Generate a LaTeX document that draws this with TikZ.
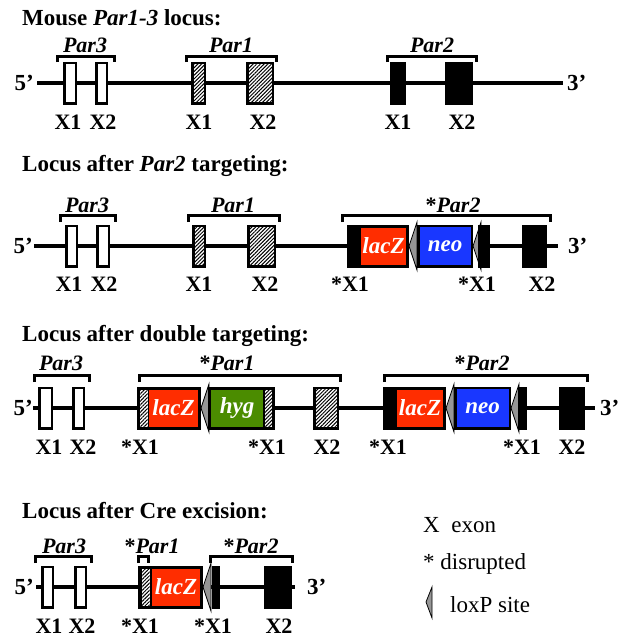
\documentclass[tikz,border=0pt]{standalone}
\usepackage{fontspec}
\setmainfont{Liberation Serif}
\usetikzlibrary{patterns.meta}

\definecolor{lacred}{RGB}{255,45,0}
\definecolor{neoblue}{RGB}{25,55,255}
\definecolor{hyggreen}{RGB}{75,140,0}
\definecolor{loxgray}{RGB}{150,150,150}

\tikzset{
  dna/.style={line width=4pt},
  bracket/.style={line width=3pt},
  exon/.style={draw, line width=2.5pt, inner sep=0pt, minimum height=40.5pt},
  openexon/.style={exon, fill=white},
  hatchexon/.style={exon, preaction={fill=white},
    pattern={Lines[angle=45,distance=2.6pt,line width=1pt]}},
  solidexon/.style={exon, fill=black},
  hatchstrip/.style={inner sep=0pt, minimum height=37pt, preaction={fill=white},
    pattern={Lines[angle=45,distance=2.6pt,line width=1pt]}},
  insert/.style={inner sep=0pt, minimum height=37pt, text=white,
    font=\fontsize{23}{25}\selectfont\bfseries\itshape},
  boxedinsert/.style={draw, line width=2.5pt, inner sep=0pt, minimum height=40.5pt,
    text=white, font=\fontsize{23}{25}\selectfont\bfseries\itshape},
  ttl/.style={inner sep=0pt, anchor=base west, font=\fontsize{23}{26}\selectfont\bfseries},
  gene/.style={inner sep=0pt, anchor=base, font=\fontsize{22}{24}\selectfont\bfseries\itshape},
  xlbl/.style={inner sep=0pt, anchor=base, font=\fontsize{22}{24}\selectfont\bfseries},
  endlbl/.style={inner sep=0pt, font=\fontsize{23}{26}\selectfont\bfseries},
  legendtxt/.style={inner sep=0pt, anchor=base west, font=\fontsize{23}{26}\selectfont},
  loxp/.pic={\draw[line width=0.8pt, fill=loxgray] (0,0) -- (8,-24) -- (8,24) -- cycle;}
}

\begin{document}
\begin{tikzpicture}[x=1pt, y=-1pt]
\useasboundingbox (0,0) rectangle (620,637);

% ---------- wild-type locus ----------
\node[ttl] (t1) at (22,25) {Mouse \textit{Par1-3} locus:};
\coordinate (a5) at (37,83); \coordinate (a3) at (563,83);
\draw[dna] (a5) -- (a3);
\node[endlbl, anchor=east] (a5l) at (34,83) {5’};
\node[endlbl, anchor=west] (a3l) at (567,83) {3’};

\coordinate (ab1a) at (57,62);  \coordinate (ab1b) at (114,62);
\coordinate (ab2a) at (186,62); \coordinate (ab2b) at (276,62);
\coordinate (ab3a) at (387,62); \coordinate (ab3b) at (476,62);
\draw[bracket] (ab1a) -- ++(0,-6) -| (ab1b);
\draw[bracket] (ab2a) -- ++(0,-6) -| (ab2b);
\draw[bracket] (ab3a) -- ++(0,-6) -| (ab3b);
\node[gene] (ag3) at (85,52) {Par3};
\node[gene] (ag1) at (231,52) {Par1};
\node[gene] (ag2) at (432,52) {Par2};

\node[openexon, minimum width=11.5pt] (a31) at (70,83) {};
\node[openexon, minimum width=10.5pt] (a32) at (101.5,83) {};
\node[hatchexon, minimum width=12.5pt] (a11) at (198.5,83) {};
\node[hatchexon, minimum width=25.5pt] (a12) at (260,83) {};
\node[solidexon, minimum width=13.5pt] (a21) at (398,83) {};
\node[solidexon, minimum width=25.5pt] (a22) at (459,83) {};

\node[xlbl] (ax31) at (68,129) {X1};
\node[xlbl] (ax32) at (103,129) {X2};
\node[xlbl] (ax11) at (199,129) {X1};
\node[xlbl] (ax12) at (263,129) {X2};
\node[xlbl] (ax21) at (398,129) {X1};
\node[xlbl] (ax22) at (462,129) {X2};

% ---------- Par2 targeted ----------
\node[ttl] (t2) at (22,171) {Locus after \textit{Par2} targeting:};
\coordinate (b5) at (34,246); \coordinate (b3) at (558,246);
\draw[dna] (b5) -- (b3);
\node[endlbl, anchor=east] (b5l) at (33,246) {5’};
\node[endlbl, anchor=west] (b3l) at (568,246) {3’};

\coordinate (bb1a) at (60,222);  \coordinate (bb1b) at (115,222);
\coordinate (bb2a) at (188,222); \coordinate (bb2b) at (279,222);
\coordinate (bb3a) at (342,222); \coordinate (bb3b) at (550,222);
\draw[bracket] (bb1a) -- ++(0,-7) -| (bb1b);
\draw[bracket] (bb2a) -- ++(0,-7) -| (bb2b);
\draw[bracket] (bb3a) -- ++(0,-7) -| (bb3b);
\node[gene] (bg3) at (87,212) {Par3};
\node[gene] (bg1) at (233,212) {Par1};
\node[gene] (bg2) at (453,212) {{\upshape *}Par2};

\node[openexon, minimum width=10.5pt] (b31) at (71.5,246) {};
\node[openexon, minimum width=11.5pt] (b32) at (103,246) {};
\node[hatchexon, minimum width=11.5pt] (b11) at (199,246) {};
\node[hatchexon, minimum width=26.5pt] (b12) at (261.5,246) {};
\node[solidexon, minimum width=59.5pt] (b21) at (378,246) {};
\node[insert, fill=lacred, minimum width=45pt] (blac) at (383.5,246) {lacZ};
\pic at (409,246) {loxp};
\node[boxedinsert, fill=neoblue, minimum width=53.5pt] (bneo) at (445,246) {neo};
\pic at (473,246) {loxp};
\node[solidexon, minimum width=9.5pt] (b21r) at (484,246) {};
\node[solidexon, minimum width=22.5pt] (b22) at (534.5,246) {};

\node[xlbl] (bx31) at (69,291) {X1};
\node[xlbl] (bx32) at (104,291) {X2};
\node[xlbl] (bx11) at (199,291) {X1};
\node[xlbl] (bx12) at (265,291) {X2};
\node[xlbl] (bx21) at (350,291) {*X1};
\node[xlbl] (bx21r) at (477,291) {*X1};
\node[xlbl] (bx22) at (542,291) {X2};

% ---------- double targeted ----------
\node[ttl] (t3) at (22,341) {Locus after double targeting:};
\coordinate (c5) at (33,408); \coordinate (c3) at (595,408);
\draw[dna] (c5) -- (c3);
\node[endlbl, anchor=east] (c5l) at (33,408) {5’};
\node[endlbl, anchor=west] (c3l) at (600,408) {3’};

\coordinate (cb1a) at (34,382);  \coordinate (cb1b) at (89,382);
\coordinate (cb2a) at (139,382); \coordinate (cb2b) at (340,382);
\coordinate (cb3a) at (384,382); \coordinate (cb3b) at (587,382);
\draw[bracket] (cb1a) -- ++(0,-7) -| (cb1b);
\draw[bracket] (cb2a) -- ++(0,-7) -| (cb2b);
\draw[bracket] (cb3a) -- ++(0,-7) -| (cb3b);
\node[gene] (cg3) at (61,370) {Par3};
\node[gene] (cg1) at (227,370) {{\upshape *}Par1};
\node[gene] (cg2) at (482,370) {{\upshape *}Par2};

\node[openexon, minimum width=12.5pt] (c31) at (45.5,408) {};
\node[openexon, minimum width=10.5pt] (c32) at (78.5,408) {};

\node[solidexon, minimum width=61.5pt] (c11) at (169,408) {};
\node[hatchstrip, minimum width=7.5pt] (c11h) at (143.75,408) {};
\node[insert, fill=lacred, minimum width=49pt] (clac1) at (173.5,408) {lacZ};
\pic at (201,408) {loxp};
\node[solidexon, minimum width=64.5pt] (c11r) at (241.5,408) {};
\node[insert, fill=hyggreen, minimum width=52pt] (chyg) at (237,408) {hyg};
\node[hatchstrip, minimum width=7pt] (c11rh) at (268.5,408) {};
\node[hatchexon, minimum width=23.5pt] (c12) at (326,408) {};

\node[solidexon, minimum width=60.5pt] (c21) at (414.5,408) {};
\node[insert, fill=lacred, minimum width=46pt] (clac2) at (420,408) {lacZ};
\pic at (446,408) {loxp};
\node[boxedinsert, fill=neoblue, minimum width=54.5pt] (cneo) at (482.5,408) {neo};
\pic at (511,408) {loxp};
\node[solidexon, minimum width=6.5pt] (c21r) at (522.5,408) {};
\node[solidexon, minimum width=23.5pt] (c22) at (572,408) {};

\node[xlbl] (cx31) at (49,454) {X1};
\node[xlbl] (cx32) at (83,454) {X2};
\node[xlbl] (cx11) at (140,454) {*X1};
\node[xlbl] (cx11r) at (267,454) {*X1};
\node[xlbl] (cx12) at (327,454) {X2};
\node[xlbl] (cx21) at (388,454) {*X1};
\node[xlbl] (cx21r) at (522,454) {*X1};
\node[xlbl] (cx22) at (572,454) {X2};

% ---------- after Cre ----------
\node[ttl] (t4) at (22,518) {Locus after Cre excision:};
\coordinate (d5) at (36,587); \coordinate (d3) at (295,587);
\draw[dna] (d5) -- (d3);
\node[endlbl, anchor=east] (d5l) at (34,587) {5’};
\node[endlbl, anchor=west] (d3l) at (307,587) {3’};

\coordinate (db1a) at (35,563);  \coordinate (db1b) at (91,563);
\coordinate (db2a) at (138,563); \coordinate (db2b) at (148,563);
\coordinate (db3a) at (210,563); \coordinate (db3b) at (292,563);
\draw[bracket] (db1a) -- ++(0,-7) -| (db1b);
\draw[bracket] (db2a) -- ++(0,-7) -| (db2b);
\draw[bracket] (db3a) -- ++(0,-7) -| (db3b);
\node[gene] (dg3) at (64,553) {Par3};
\node[gene] (dg1) at (152,553) {{\upshape *}Par1};
\node[gene] (dg2) at (251,553) {{\upshape *}Par2};

\node[openexon, minimum width=10.5pt] (d31) at (47.5,587) {};
\node[openexon, minimum width=10.5pt] (d32) at (80.5,587) {};
\node[solidexon, minimum width=62.5pt] (d11) at (170.5,587) {};
\node[hatchstrip, minimum width=8pt] (d11h) at (145.5,587) {};
\node[insert, fill=lacred, minimum width=48pt] (dlac) at (176,587) {lacZ};
\pic at (203,587) {loxp};
\node[solidexon, minimum width=5.5pt] (d21) at (216,587) {};
\node[solidexon, minimum width=25.5pt] (d22) at (278,587) {};

\node[xlbl] (dx31) at (49,633) {X1};
\node[xlbl] (dx32) at (82,633) {X2};
\node[xlbl] (dx11) at (140,633) {*X1};
\node[xlbl] (dx21) at (213,633) {*X1};
\node[xlbl] (dx22) at (279,633) {X2};

% ---------- key ----------
\node[legendtxt] (kx) at (423,532) {X\enspace exon};
\node[legendtxt] (kd) at (423,569) {* disrupted};
\draw[line width=0.8pt, fill=loxgray] (426,602) -- (432,587) -- (432,618) -- cycle;
\node[legendtxt] (kl) at (450,612) {loxP site};
\end{tikzpicture}
\end{document}
